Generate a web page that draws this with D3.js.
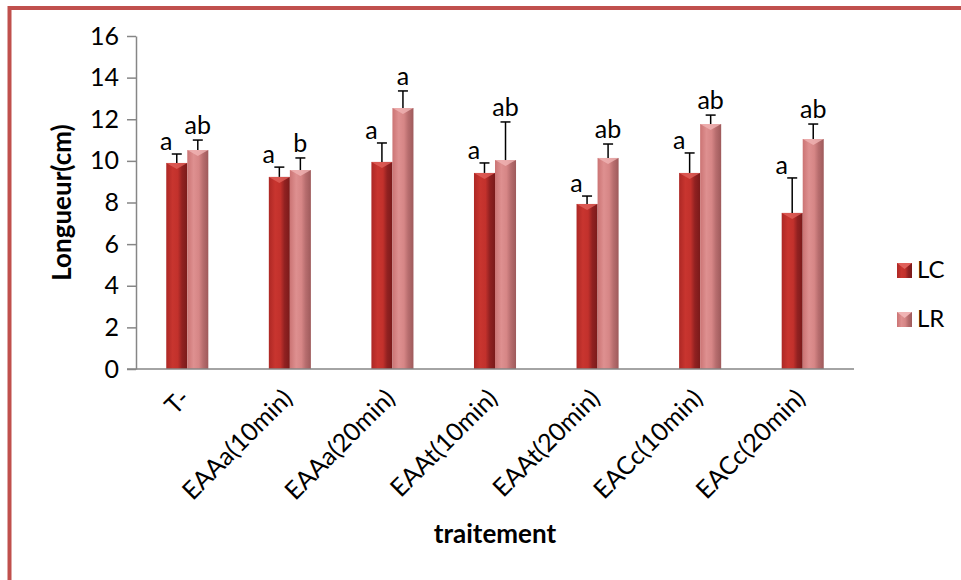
<!DOCTYPE html>
<html lang="fr">
<head>
  <meta charset="utf-8">
  <title>Longueur par traitement</title>
  <script src="https://d3js.org/d3.v7.min.js"></script>
  <style>
    body { margin: 0; background: #fff; }
    svg text { font-family: Lato, "Open Sans", sans-serif; fill: #000; }
    .axis path, .axis line { stroke: #868686; stroke-width: 1.5px; }
    .axis text { font-size: 25px; }
    .title { font-size: 26px; font-weight: bold; }
    .letter { font-size: 25px; }
  </style>
</head>
<body>
  <div id="chart"></div>
  <script>
    var width = 961,
        height = 580;

    // data
    var categories = ["T-", "EAAa(10min)", "EAAa(20min)", "EAAt(10min)", "EAAt(20min)", "EACc(10min)", "EACc(20min)"];
    var series = ["LC", "LR"];
    var lcValues = [9.9, 9.23, 9.95, 9.42, 7.93, 9.42, 7.5];
    var lcErrors = [0.43, 0.47, 0.91, 0.48, 0.38, 0.96, 1.68];
    var lrValues = [10.52, 9.56, 12.54, 10.04, 10.14, 11.77, 11.05];
    var lrErrors = [0.48, 0.58, 0.82, 1.83, 0.67, 0.43, 0.72];
    var lcLetters = ["a", "a", "a", "a", "a", "a", "a"];
    var lrLetters = ["ab", "b", "a", "ab", "ab", "ab", "ab"];
    var yTicks = [0, 2, 4, 6, 8, 10, 12, 14, 16];

    var svg = d3.select("#chart")
      .append("svg")
      .attr("width", width)
      .attr("height", height);

    // gradients for the cylinder look
    var defs = svg.append("defs");
    var grads = {
      LC: ["#ad2825", "#c8352f", "#c2312c", "#912121", "#7a1a1a"],
      LR: ["#cb7474", "#de9090", "#d68686", "#b76d6e", "#9e5a5b"]
    };
    series.forEach(function(s) {
      var g = defs.append("linearGradient")
        .attr("id", "grad" + s)
        .attr("x1", "0%").attr("x2", "100%")
        .attr("y1", "0%").attr("y2", "0%");
      var stops = [0, 0.3, 0.55, 0.75, 1];
      grads[s].forEach(function(c, i) {
        g.append("stop").attr("offset", stops[i]).attr("stop-color", c);
      });
    });

    // frame
    svg.append("rect")
      .attr("x", 9.5)
      .attr("y", 8)
      .attr("width", 1000)
      .attr("height", 700)
      .attr("fill", "none")
      .attr("stroke", "#c0504d")
      .attr("stroke-width", 4);

    var margin = { left: 136, right: 107, top: 36, bottom: 211 };
    var plotW = width - margin.left - margin.right,
        plotH = height - margin.top - margin.bottom;

    var g = svg.append("g")
      .attr("transform", "translate(" + margin.left + "," + margin.top + ")");

    var x0 = d3.scaleBand()
      .domain(categories)
      .range([0, plotW])
      .paddingInner(0.59)
      .paddingOuter(0.295);

    var x1 = d3.scaleBand()
      .domain(series)
      .range([0, x0.bandwidth()]);

    var y = d3.scaleLinear()
      .domain([0, 16])
      .range([plotH, 0]);

    var rows = categories.map(function(c, i) {
      return {
        cat: c,
        bars: [
          { s: "LC", v: lcValues[i], e: lcErrors[i], l: lcLetters[i] },
          { s: "LR", v: lrValues[i], e: lrErrors[i], l: lrLetters[i] }
        ]
      };
    });

    // y axis
    var yAxis = g.append("g")
      .attr("class", "axis")
      .call(d3.axisLeft(y).tickValues(yTicks).tickSize(9).tickPadding(8).tickSizeOuter(0));

    var groups = g.selectAll(".cat")
      .data(rows)
      .enter()
      .append("g")
      .attr("class", "cat")
      .attr("transform", function(d) { return "translate(" + x0(d.cat) + ",0)"; });

    var bar = groups.selectAll(".bar")
      .data(function(d) { return d.bars; })
      .enter()
      .append("g")
      .attr("class", "bar");

    bar.append("rect")
      .attr("x", function(d) { return x1(d.s); })
      .attr("y", function(d) { return y(d.v); })
      .attr("width", x1.bandwidth())
      .attr("height", function(d) { return plotH - y(d.v); })
      .attr("fill", function(d) { return "url(#grad" + d.s + ")"; });

    // light bevel at the top of each bar
    bar.append("path")
      .attr("d", function(d) {
        var xl = x1(d.s), w = x1.bandwidth(), yt = y(d.v);
        return "M" + xl + "," + yt + "L" + (xl + w) + "," + yt + "L" + (xl + w / 2) + "," + (yt + 6) + "Z";
      })
      .attr("fill", function(d) { return d.s == "LC" ? "#e0605a" : "#f0b4b4"; })
      .attr("opacity", 0.8);

    // error bars (upper only)
    bar.append("line")
      .attr("x1", function(d) { return x1(d.s) + x1.bandwidth() / 2; })
      .attr("x2", function(d) { return x1(d.s) + x1.bandwidth() / 2; })
      .attr("y1", function(d) { return y(d.v); })
      .attr("y2", function(d) { return y(d.v + d.e); })
      .attr("stroke", "#000")
      .attr("stroke-width", 1.5);

    bar.append("line")
      .attr("x1", function(d) { return x1(d.s) + x1.bandwidth() / 2 - 5; })
      .attr("x2", function(d) { return x1(d.s) + x1.bandwidth() / 2 + 5; })
      .attr("y1", function(d) { return y(d.v + d.e); })
      .attr("y2", function(d) { return y(d.v + d.e); })
      .attr("stroke", "#000")
      .attr("stroke-width", 1.5);

    // significance letters
    bar.append("text")
      .attr("class", "letter")
      .attr("text-anchor", "middle")
      .attr("x", function(d) { return d.s == "LC" ? x1(d.s) : x1(d.s) + x1.bandwidth() / 2; })
      .attr("y", function(d) { return y(d.v + d.e) - (d.s == "LC" ? 4 : 6); })
      .text(function(d) { return d.l; });

    // x axis
    var xAxis = g.append("g")
      .attr("class", "axis")
      .attr("transform", "translate(0," + plotH + ")")
      .call(d3.axisBottom(x0).tickSize(0).tickPadding(0).tickSizeOuter(0));

    xAxis.select(".domain")
      .attr("d", "M-9,0H" + plotW);

    xAxis.selectAll("text")
      .attr("text-anchor", "end")
      .attr("dy", null)
      .attr("y", 0)
      .attr("transform", "translate(4,31) rotate(-45)");

    // axis titles
    svg.append("text")
      .attr("class", "title")
      .attr("text-anchor", "middle")
      .attr("transform", "translate(71," + (margin.top + plotH / 2) + ") rotate(-90)")
      .text("Longueur(cm)");

    svg.append("text")
      .attr("class", "title")
      .attr("text-anchor", "middle")
      .attr("x", margin.left + plotW / 2)
      .attr("y", 543)
      .text("traitement");

    // legend
    var legend = svg.append("g")
      .attr("transform", "translate(897,263)");

    var item = legend.selectAll("g")
      .data(series)
      .enter()
      .append("g")
      .attr("transform", function(d, i) { return "translate(0," + i * 49 + ")"; });

    item.append("rect")
      .attr("width", 15)
      .attr("height", 15)
      .attr("fill", function(d) { return "url(#grad" + d + ")"; });

    item.append("path")
      .attr("d", "M0,0L15,0L7.5,6Z")
      .attr("fill", function(d) { return d == "LC" ? "#e0605a" : "#f0b4b4"; });

    item.append("text")
      .attr("x", 20)
      .attr("y", 15)
      .style("font-size", "24px")
      .text(function(d) { return d; });
  </script>
</body>
</html>
